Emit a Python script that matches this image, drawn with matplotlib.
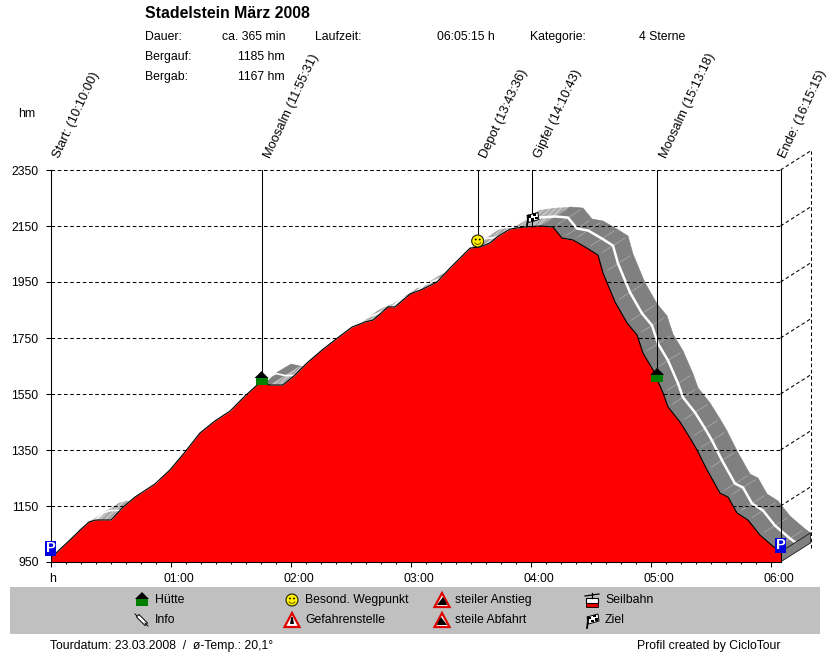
# plot
import numpy as np
from matplotlib import pyplot as plt
from matplotlib.patches import Polygon, Rectangle, Circle, Wedge
from matplotlib.ticker import MultipleLocator
from matplotlib.transforms import ScaledTranslation

# profile, minutes since start / height in hm
profile_min = [0, 2.75, 9.75, 14.75, 19.25, 22.75, 30.25, 36.25, 42.25, 52.25, 59.75, 67.25, 74.75,
               82.25, 89.75, 97.25, 103.25, 105.25, 109.75, 116.25, 122.25, 128.25, 135.75, 144.75,
               150.75, 157.25, 161.25, 168.75, 172.25, 179.75, 186.25, 193.25, 199.75, 209.75,
               214.75, 219.75, 223.25, 229.75, 236.25, 244.75, 251.25, 255.75, 261.25, 268.25, 273.75,
               276.25, 282.25, 288.25, 293.25, 296.25, 301.25, 306.25, 308.75, 314.75, 319.75,
               323.25, 328.25, 334.75, 338.75, 343.25, 348.75, 354.75, 362.25, 365]
profile_hm = [965, 982, 1029, 1064, 1093, 1100, 1100, 1146, 1182, 1229, 1279, 1343, 1411,
              1454, 1489, 1543, 1582, 1589, 1582, 1582, 1618, 1661, 1707, 1757,
              1789, 1807, 1814, 1861, 1861, 1907, 1925, 1950, 2000, 2071,
              2075, 2089, 2111, 2139, 2146, 2150, 2146, 2107, 2100, 2071, 2046,
              1982, 1879, 1804, 1761, 1696, 1636, 1554, 1504, 1450, 1393,
              1350, 1279, 1196, 1182, 1125, 1100, 1046, 1000, 986]

y_ticks = [950, 1150, 1350, 1550, 1750, 1950, 2150, 2350]
x_ticks = [0, 60, 120, 180, 240, 300, 360]
x_labels = ["h", "01:00", "02:00", "03:00", "04:00", "05:00", "06:00"]

stop_min = [0, 105.5, 213.6, 240.7, 303.3, 365.25]
stop_hm = [965, 1589, 2075, 2148, 1636, 986]
stop_names = ["Start: (10:10:00)", "Moosalm (11:55:31)", "Depot (13:43:36)",
              "Gipfel (14:10:43)", "Moosalm (15:13:18)", "Ende: (16:15:15)"]

RED = "#ff0000"
DARK = "#808080"
LIGHT = "#bdbdbd"
BAND = "#c0c0c0"
# depth of the 3d ribbon in data units
DEPTH_X = 15
DEPTH_Y = 68
PEAK = profile_hm.index(2150)

plt.rcParams["font.family"] = ["Liberation Sans", "DejaVu Sans"]
plt.rcParams["font.size"] = 8.8
plt.rcParams["hatch.linewidth"] = 0.5

fig = plt.figure(figsize=(8.3, 6.52), dpi=100)
ax = fig.add_axes([50.5 / 830, (652 - 562) / 652, 730 / 830, 392 / 652])
ax.set_xlim(0, 365)
ax.set_ylim(950, 2350)

# overlay in picture pixels for texts and icons
pa = fig.add_axes([0, 0, 1, 1], zorder=5)
pa.set_xlim(0, 830)
pa.set_ylim(652, 0)
pa.axis("off")
pa.patch.set_alpha(0)


def to_px(t, h):
    return pa.transData.inverted().transform(ax.transData.transform((t, h)))


# ribbon behind the profile
for i in range(len(profile_min) - 1):
    t1, t2 = profile_min[i], profile_min[i + 1]
    h1, h2 = profile_hm[i], profile_hm[i + 1]
    quad = [(t1, h1), (t2, h2), (t2 + DEPTH_X, h2 + DEPTH_Y), (t1 + DEPTH_X, h1 + DEPTH_Y)]
    if h2 < h1:
        ax.add_patch(Polygon(quad, fc=DARK, ec=DARK, lw=0.4, zorder=1, clip_on=False))
    else:
        ax.add_patch(Polygon(quad, fc=LIGHT, ec="#8c8c8c", hatch="//////", lw=0, zorder=1, clip_on=False))
for t, h in zip(profile_min[PEAK:-1], profile_hm[PEAK:-1]):
    ax.plot([t + DEPTH_X * 0.15, t + DEPTH_X * 0.9], [h + DEPTH_Y * 0.15, h + DEPTH_Y * 0.9],
            color="#a6a6a6", lw=0.6, zorder=1.5, clip_on=False)
ax.plot(np.array(profile_min[PEAK - 1:]) + DEPTH_X / 2, np.array(profile_hm[PEAK - 1:]) + DEPTH_Y / 2,
        color="white", lw=1.8, zorder=2, clip_on=False)
ax.plot(np.array(profile_min[:PEAK]) + DEPTH_X / 2, np.array(profile_hm[:PEAK]) + DEPTH_Y / 2,
        color="white", lw=1.2, zorder=1.6, clip_on=False)

# grid and side wall
for h in y_ticks:
    ax.plot([0, 365], [h, h], color="black", lw=0.75, ls=(0, (3.5, 2.5)), zorder=3, clip_on=False)
    if h > 950:
        ax.plot([365, 365 + DEPTH_X], [h, h + DEPTH_Y], color="black", lw=0.75, ls=(0, (3.5, 2.5)),
                zorder=3, clip_on=False)
ax.plot([365 + DEPTH_X] * 2, [1000, 2350 + DEPTH_Y], color="black", lw=0.75, ls=(0, (3.5, 2.5)),
        zorder=3, clip_on=False)
ax.add_patch(Polygon([(365, 950), (365 + DEPTH_X, 950 + DEPTH_Y), (365 + DEPTH_X, 986 + DEPTH_Y), (365, 986)],
                     fc=DARK, ec="black", lw=0.5, zorder=3, clip_on=False))

# profile
ax.fill_between(profile_min, profile_hm, 950, color=RED, lw=0, zorder=4)
ax.plot(profile_min, profile_hm, color="black", lw=0.8, zorder=4.5)

ax.set_yticks(y_ticks)
ax.set_xticks(x_ticks)
ax.set_xticklabels(x_labels)
ax.xaxis.set_minor_locator(MultipleLocator(7.5))
ax.tick_params(axis="both", which="major", length=3.6, width=0.75, labelsize=8.8)
ax.tick_params(axis="x", which="minor", length=1.6, width=0.75)
ax.tick_params(axis="y", pad=5)
ax.tick_params(axis="x", pad=4)
for lab, t in zip(ax.get_xticklabels(), x_ticks):
    shift = 2 if t == 0 else 8
    lab.set_transform(lab.get_transform() + ScaledTranslation(shift / 100, 0, fig.dpi_scale_trans))
for s in ax.spines.values():
    s.set_linewidth(0.75)
    s.set_zorder(6)
ax.spines["top"].set_visible(False)


# icons, x and y are the centre in pixels
def hut(x, y):
    pa.add_patch(Polygon([(x - 7, y), (x, y - 7), (x + 7, y)], fc="black", ec="none"))
    pa.add_patch(Rectangle((x - 6, y), 12, 7, fc="#008000", ec="none"))


def parking(x, y):
    pa.add_patch(Rectangle((x - 5.5, y - 7.5), 11, 15, fc="#0000e0", ec="none"))
    pa.text(x, y - 0.5, "P", color="white", fontsize=10.5, fontweight="bold", ha="center", va="center")


def smiley(x, y):
    pa.add_patch(Circle((x, y), 6, fc="#ffee00", ec="#222200", lw=0.8))
    pa.add_patch(Circle((x - 2, y - 1.5), 0.9, fc="black", ec="none"))
    pa.add_patch(Circle((x + 2, y - 1.5), 0.9, fc="black", ec="none"))
    pa.add_patch(Wedge((x, y), 3.8, 25, 155, width=0.8, fc="#444400", ec="none"))


def flag(x, y):
    pa.plot([x - 5, x - 3.5], [y + 8, y - 3], color="black", lw=1.3)
    pa.add_patch(Polygon([(x - 5, y - 3), (x + 6, y - 6), (x + 7, y + 1), (x - 3.5, y + 4)],
                         fc="white", ec="black", lw=0.7))
    for cx, cy in [(-2, -2), (2.5, -4), (0.5, 1), (4.5, -0.5)]:
        pa.add_patch(Rectangle((x + cx - 1.2, y + cy - 1.2), 2.5, 2.5, fc="black", ec="none"))


def warn(x, y, kind):
    pa.add_patch(Polygon([(x - 7.5, y + 7), (x, y - 7), (x + 7.5, y + 7)], fc="white", ec="#e00000", lw=1.6))
    if kind == "danger":
        pa.add_patch(Polygon([(x - 2, y + 4), (x - 0.7, y - 3), (x + 0.7, y - 3), (x + 2, y + 4)], fc="black", ec="none"))
    elif kind == "up":
        pa.add_patch(Polygon([(x - 5, y + 5), (x + 5, y + 5), (x + 4, y + 2), (x + 1, y - 3)], fc="black", ec="none"))
    else:
        pa.add_patch(Polygon([(x - 5, y + 5), (x + 5, y + 5), (x - 1, y - 3), (x - 4, y + 2)], fc="black", ec="none"))


def gondola(x, y):
    pa.plot([x - 7, x + 7], [y - 4, y - 6], color="black", lw=0.9)
    pa.plot([x, x], [y - 7, y - 2], color="black", lw=0.9)
    pa.add_patch(Rectangle((x - 6, y - 2), 12, 5, fc="white", ec="black", lw=0.8))
    pa.add_patch(Rectangle((x - 6, y + 3), 12, 4, fc="#e00000", ec="black", lw=0.6))


def pin(x, y):
    pa.plot([x - 7, x - 3], [y - 6, y - 2], color="black", lw=0.7)
    pa.plot([x - 3, x + 3], [y - 3, y + 3], color="black", lw=3.2)
    pa.plot([x - 3, x + 3], [y - 3, y + 3], color="white", lw=1.8)
    pa.plot([x + 3, x + 6], [y + 3, y + 6], color="black", lw=0.7)


# stop lines, labels and icons
for t, h, name in zip(stop_min, stop_hm, stop_names):
    ax.plot([t, t], [h, 2350], color="black", lw=0.75, zorder=5, clip_on=False)
    px, py = to_px(t, 2350)
    # last label sits right at the picture edge
    nudge = 2 if t > 360 else 6
    pa.text(px + nudge, 157, name, rotation=65, rotation_mode="anchor", ha="left", va="center", fontsize=9.3)

parking(*to_px(0, 998))
hut(*(to_px(stop_min[1], stop_hm[1]) + [0, -5]))
smiley(*(to_px(stop_min[2], stop_hm[2]) + [0, -6]))
flag(*(to_px(stop_min[3], stop_hm[3]) + [0, -8]))
hut(*(to_px(stop_min[4], stop_hm[4]) + [0, 5]))
parking(*(to_px(365, 986) + [0, -6]))

# header
pa.text(145, 13, "Stadelstein März 2008", fontsize=11.4, fontweight="bold", va="center")
pa.text(145, 37, "Dauer:", va="center")
pa.text(285, 37, "ca. 365 min", ha="right", va="center")
pa.text(315, 37, "Laufzeit:", va="center")
pa.text(495, 37, "06:05:15 h", ha="right", va="center")
pa.text(530, 37, "Kategorie:", va="center")
pa.text(639, 37, "4 Sterne", va="center")
pa.text(145, 57, "Bergauf:", va="center")
pa.text(285, 57, "1185 hm", ha="right", va="center")
pa.text(145, 77, "Bergab:", va="center")
pa.text(285, 77, "1167 hm", ha="right", va="center")
pa.text(18, 114, "hm", va="center")

# legend band
pa.add_patch(Rectangle((10, 587), 810, 47, fc=BAND, ec="none", zorder=0))
hut(142, 599)
pin(142, 620)
smiley(292, 600)
warn(292, 620, "danger")
warn(442, 600, "up")
warn(442, 620, "down")
gondola(592, 600)
flag(592, 620)
pa.text(155, 600, "Hütte", va="center")
pa.text(155, 620, "Info", va="center")
pa.text(305, 600, "Besond. Wegpunkt", va="center")
pa.text(305, 620, "Gefahrenstelle", va="center")
pa.text(455, 600, "steiler Anstieg", va="center")
pa.text(455, 620, "steile Abfahrt", va="center")
pa.text(605, 600, "Seilbahn", va="center")
pa.text(605, 620, "Ziel", va="center")

# footer
pa.text(50, 646, "Tourdatum: 23.03.2008  /  ø-Temp.: 20,1°", va="center")
pa.text(637, 646, "Profil created by CicloTour", va="center")

plt.savefig("out.png", dpi=100)
